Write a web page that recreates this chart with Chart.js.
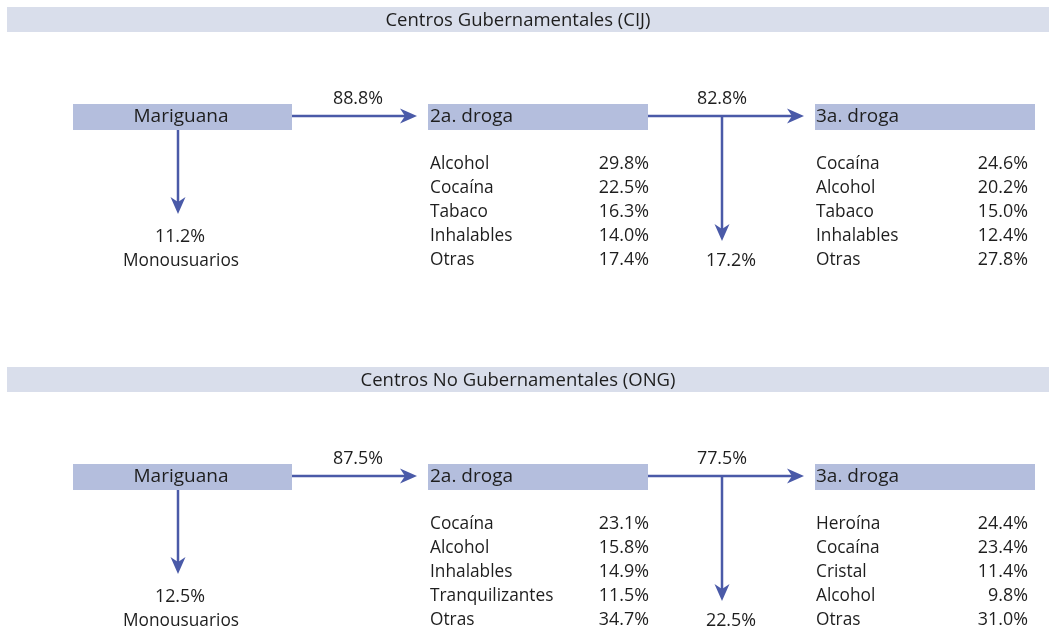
<!DOCTYPE html>
<html><head><meta charset="utf-8">
<script src="https://cdn.jsdelivr.net/npm/chart.js@4.4.1/dist/chart.umd.min.js"></script>
<style>html,body{margin:0;padding:0;background:#fff}#wrap{width:1049px;height:632px}</style>
</head><body><div id="wrap"><canvas id="c" width="1049" height="632"></canvas></div>
<script>
// ---- data ----
const panelTitles = ['Centros Gubernamentales (CIJ)', 'Centros No Gubernamentales (ONG)'];
const firstDrug = ['Mariguana', 'Mariguana'];
const toSecondPct = [88.8, 87.5];
const monousuariosPct = [11.2, 12.5];
const toThirdPct = [82.8, 77.5];
const stopSecondPct = [17.2, 22.5];
const cijSecondDrugs = ['Alcohol', 'Cocaína', 'Tabaco', 'Inhalables', 'Otras'];
const cijSecondValues = [29.8, 22.5, 16.3, 14.0, 17.4];
const cijThirdDrugs = ['Cocaína', 'Alcohol', 'Tabaco', 'Inhalables', 'Otras'];
const cijThirdValues = [24.6, 20.2, 15.0, 12.4, 27.8];
const ongSecondDrugs = ['Cocaína', 'Alcohol', 'Inhalables', 'Tranquilizantes', 'Otras'];
const ongSecondValues = [23.1, 15.8, 14.9, 11.5, 34.7];
const ongThirdDrugs = ['Heroína', 'Cocaína', 'Cristal', 'Alcohol', 'Otras'];
const ongThirdValues = [24.4, 23.4, 11.4, 9.8, 31.0];

const secondDrugs = [cijSecondDrugs, ongSecondDrugs];
const secondValues = [cijSecondValues, ongSecondValues];
const thirdDrugs = [cijThirdDrugs, ongThirdDrugs];
const thirdValues = [cijThirdValues, ongThirdValues];

const fmt = v => v.toFixed(1) + '%';
const FONT = '"Open Sans", "Noto Sans", sans-serif';
const ARROW = '#4a5aa8';
const BOX = '#b4bedd';
const BAND = '#d9deeb';
const TXT = '#1e1e1e';
const LABF = '17.3px ' + FONT;
const NUMF = '17.9px ' + FONT;
const BOXF = '19px ' + FONT;
const TITLEF = '18.5px ' + FONT;

const flowPlugin = {
  id: 'flow',
  afterDraw(chart) {
    const ctx = chart.ctx, xs = chart.scales.x, ys = chart.scales.y;
    const X = v => xs.getPixelForValue(v), Y = v => ys.getPixelForValue(v);
    const rect = (x0, y0, x1, y1, c) => { ctx.fillStyle = c; ctx.fillRect(X(x0), Y(y0), X(x1) - X(x0), Y(y1) - Y(y0)); };
    const text = (s, x, y, align, font) => {
      ctx.font = font; ctx.fillStyle = TXT; ctx.textAlign = align; ctx.textBaseline = 'middle';
      ctx.fillText(s, X(x), Y(y));
    };
    const line = (x0, y0, x1, y1) => {
      ctx.strokeStyle = ARROW; ctx.lineWidth = 2.5; ctx.beginPath();
      ctx.moveTo(X(x0), Y(y0)); ctx.lineTo(X(x1), Y(y1)); ctx.stroke();
    };
    const head = (tx, ty, dir) => {
      const px = X(tx), py = Y(ty);
      ctx.fillStyle = ARROW; ctx.beginPath();
      if (dir === 'r') {
        ctx.moveTo(px, py); ctx.lineTo(px - 17, py - 7.5); ctx.lineTo(px - 12, py); ctx.lineTo(px - 17, py + 7.5);
      } else {
        ctx.moveTo(px, py); ctx.lineTo(px - 7.5, py - 17); ctx.lineTo(px, py - 12); ctx.lineTo(px + 7.5, py - 17);
      }
      ctx.closePath(); ctx.fill();
    };
    ctx.save();
    for (let p = 0; p < 2; p++) {
      const o = p * 360;
      rect(7, 7 + o, 1049, 32 + o, BAND);
      text(panelTitles[p], 518, 20.5 + o, 'center', TITLEF);
      rect(73, 104 + o, 292, 130 + o, BOX);
      rect(428, 104 + o, 648, 130 + o, BOX);
      rect(815, 104 + o, 1035, 130 + o, BOX);
      text(firstDrug[p], 181, 117 + o, 'center', BOXF);
      text('2a. droga', 430, 117 + o, 'left', BOXF);
      text('3a. droga', 816, 117 + o, 'left', BOXF);
      line(292, 116 + o, 408, 116 + o); head(417, 116 + o, 'r');
      line(648, 116 + o, 795, 116 + o); head(804, 116 + o, 'r');
      line(178, 130 + o, 178, 205 + o); head(178, 214 + o, 'd');
      line(722, 116 + o, 722, 232 + o); head(722, 241 + o, 'd');
      text(fmt(toSecondPct[p]), 358, 99 + o, 'center', NUMF);
      text(fmt(toThirdPct[p]), 722, 99 + o, 'center', NUMF);
      text(fmt(monousuariosPct[p]), 180, 237 + o, 'center', NUMF);
      text('Monousuarios', 181, 261 + o, 'center', LABF);
      text(fmt(stopSecondPct[p]), 731, 261 + o, 'center', NUMF);
      for (let i = 0; i < 5; i++) {
        const y = 164 + i * 24 + o;
        text(secondDrugs[p][i], 430, y, 'left', LABF);
        text(fmt(secondValues[p][i]), 649, y, 'right', NUMF);
        text(thirdDrugs[p][i], 816, y, 'left', LABF);
        text(fmt(thirdValues[p][i]), 1028, y, 'right', NUMF);
      }
    }
    ctx.restore();
  }
};

new Chart(document.getElementById('c'), {
  type: 'scatter',
  data: { datasets: [{ data: [], pointRadius: 0 }] },
  options: {
    responsive: false, animation: false, devicePixelRatio: 1,
    layout: { padding: 0 },
    plugins: { legend: { display: false }, tooltip: { enabled: false } },
    scales: {
      x: { type: 'linear', min: 0, max: 1049, display: false },
      y: { type: 'linear', min: 0, max: 632, reverse: true, display: false }
    }
  },
  plugins: [flowPlugin]
});
</script></body></html>
